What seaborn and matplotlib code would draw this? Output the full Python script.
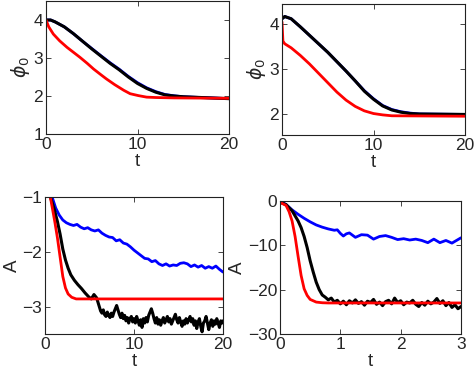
import numpy as np
import pandas as pd
import matplotlib
matplotlib.use('Agg')
import matplotlib.pyplot as plt
import seaborn as sns

sns.set_style('ticks')
plt.rcParams['font.family'] = ['Liberation Sans', 'DejaVu Sans']
plt.rcParams['mathtext.fontset'] = 'dejavusans'

BLUE, BLACK, RED = '#0000ff', '#000000', '#ff0000'

# ---- panel (a): phi_0 vs t, top left
tl_black_t = [0, 0.5, 1, 2, 3, 4, 5, 6, 7, 8, 9, 10, 11, 12, 13, 14, 15, 16, 18, 20]
tl_black_y = [4.0, 4.0, 3.95, 3.82, 3.64, 3.44, 3.24, 3.05, 2.86, 2.69, 2.5, 2.33, 2.2, 2.1, 2.03, 2.0, 1.98, 1.97, 1.95, 1.93]
tl_blue_t = [0, 0.5, 1, 2, 3, 4, 5, 6, 7, 8, 9, 10, 11, 12, 13, 14, 15, 16, 18, 20]
tl_blue_y = [4.0, 4.0, 3.95, 3.82, 3.64, 3.44, 3.25, 3.06, 2.875, 2.705, 2.515, 2.35, 2.215, 2.115, 2.04, 2.005, 1.98, 1.97, 1.95, 1.93]
tl_red_t = [0, 0.3, 0.8, 1.5, 2.3, 3, 3.7, 4.5, 5.2, 6, 6.6, 7.5, 8.5, 9.2, 10.1, 11, 12, 14, 20]
tl_red_y = [4.0, 3.82, 3.63, 3.45, 3.28, 3.15, 3.02, 2.86, 2.71, 2.56, 2.45, 2.3, 2.15, 2.06, 2.01, 1.97, 1.96, 1.95, 1.94]

# ---- panel (b): phi_0 vs t, top right
tr_black_t = [0, 0.3, 1, 2, 3, 4, 5, 6, 7, 8, 9, 10, 11, 12, 13, 14, 15, 20]
tr_black_y = [4.12, 4.17, 4.12, 3.94, 3.75, 3.56, 3.37, 3.16, 2.95, 2.73, 2.5, 2.32, 2.17, 2.08, 2.03, 2.0, 1.99, 1.98]
tr_blue_t = [0, 0.3, 1, 2, 3, 4, 5, 6, 7, 8, 9, 10, 11, 12, 13, 14, 15, 20]
tr_blue_y = [4.12, 4.17, 4.12, 3.94, 3.75, 3.56, 3.37, 3.16, 2.95, 2.73, 2.51, 2.33, 2.18, 2.09, 2.04, 2.01, 1.99, 1.98]
tr_red_t = [0, 0.1, 0.3, 1, 2, 3, 4, 5, 6, 7, 8, 9, 10, 11, 12, 20]
tr_red_y = [4.05, 3.62, 3.56, 3.47, 3.3, 3.11, 2.9, 2.69, 2.48, 2.3, 2.16, 2.06, 2.0, 1.97, 1.95, 1.94]

# ---- panel (c): A vs t, bottom left
bl_blue_t = [0, 0.5, 0.8, 1.2, 1.6, 2.0, 2.4, 2.8, 3.2, 3.6, 4.0, 4.4, 4.8, 5.2, 5.6, 6.0, 6.4,
             6.8, 7.2, 7.6, 8.0, 8.4, 8.8, 9.2, 9.6, 10.0, 10.4, 10.8, 11.2, 11.6, 12.0, 12.4,
             12.8, 13.2, 13.6, 14.0, 14.4, 14.8, 15.2, 15.6, 16.0, 16.4, 16.8, 17.2, 17.6,
             18.0, 18.4, 18.8, 19.2, 19.6, 20.0]
bl_blue_y = [-0.4, -0.85, -1.0, -1.2, -1.33, -1.42, -1.47, -1.5, -1.52, -1.5, -1.55, -1.58,
             -1.56, -1.6, -1.62, -1.6, -1.66, -1.7, -1.73, -1.74, -1.8, -1.78, -1.84, -1.86,
             -1.91, -1.97, -2.02, -2.07, -2.12, -2.13, -2.18, -2.16, -2.22, -2.25, -2.22,
             -2.26, -2.24, -2.25, -2.21, -2.2, -2.22, -2.27, -2.24, -2.28, -2.25, -2.3, -2.27,
             -2.3, -2.26, -2.32, -2.37]
bl_black_t = [0, 0.6, 1.0, 1.4, 1.7, 2.0, 2.3, 2.6, 2.9, 3.3, 3.7, 4.1, 4.5, 4.9, 5.2, 5.5, 5.8,
              6.1, 6.25, 6.4, 6.55, 6.7, 6.85, 7.0, 7.15, 7.3, 7.45,
              7.6, 7.75, 7.9, 8.05, 8.2, 8.35, 8.5, 8.65, 8.8, 8.95,
              9.1, 9.25, 9.4, 9.55, 9.7, 9.85, 10.0, 10.15, 10.3, 10.45,
              10.6, 10.75, 10.9, 11.05, 11.2, 11.35, 11.5, 11.65, 11.8, 11.95,
              12.1, 12.25, 12.4, 12.55, 12.7, 12.85, 13.0, 13.15, 13.3, 13.45,
              13.6, 13.75, 13.9, 14.05, 14.2, 14.35, 14.5, 14.65, 14.8, 14.95,
              15.1, 15.25, 15.4, 15.55, 15.7, 15.85, 16.0, 16.15, 16.3, 16.45,
              16.6, 16.75, 16.9, 17.05, 17.2, 17.35, 17.5, 17.65, 17.8, 17.95,
              18.1, 18.25, 18.4, 18.55, 18.7, 18.85, 19.0, 19.15, 19.3, 19.45,
              19.6, 19.75, 19.9, 20.0]
bl_black_y = [-0.3, -1.0, -1.2, -1.45, -1.68, -1.95, -2.15, -2.3, -2.42, -2.52, -2.6, -2.67,
              -2.75, -2.82, -2.86, -2.78, -2.84,
              -3.0, -3.08, -3.12, -3.06, -3.15, -3.18, -3.1, -3.16, -3.2, -3.12,
              -3.18, -3.1, -3.04, -2.98, -3.06, -3.14, -3.2, -3.12, -3.22, -3.16,
              -3.26, -3.2, -3.3, -3.22, -3.18, -3.28, -3.22, -3.3, -3.18, -3.26,
              -3.34, -3.24, -3.38, -3.22, -3.3, -3.2, -3.28, -3.16, -3.1, -3.04,
              -3.12, -3.22, -3.3, -3.2, -3.32, -3.24, -3.34, -3.26, -3.2, -3.3,
              -3.24, -3.18, -3.28, -3.22, -3.32, -3.26, -3.2, -3.14, -3.24, -3.3,
              -3.2, -3.28, -3.36, -3.26, -3.32, -3.22, -3.3, -3.24, -3.18, -3.28,
              -3.22, -3.34, -3.26, -3.4, -3.28, -3.22, -3.36, -3.46, -3.3, -3.26,
              -3.18, -3.3, -3.42, -3.3, -3.24, -3.36, -3.26, -3.32, -3.22, -3.3,
              -3.38, -3.26, -3.3, -3.26]
bl_red_t = [0, 0.6, 1.1, 1.4, 1.7, 2.0, 2.3, 2.6, 3.0, 3.5, 4.0, 20.0]
bl_red_y = [-0.2, -1.0, -1.45, -1.75, -2.1, -2.45, -2.66, -2.77, -2.83, -2.86, -2.86, -2.86]

# ---- panel (d): A vs t, bottom right
br_blue_t = [0, 0.1, 0.2, 0.3, 0.4, 0.5, 0.6, 0.7, 0.8, 0.9, 0.95, 1.0, 1.05, 1.1, 1.15, 1.25,
             1.35, 1.45, 1.55, 1.65, 1.75, 1.85, 1.95, 2.05, 2.15, 2.25, 2.35, 2.45, 2.55,
             2.65, 2.75, 2.85, 2.95, 3.0]
br_blue_y = [0, -0.8, -2.0, -3.0, -3.9, -4.7, -5.4, -5.9, -6.3, -6.6, -6.5, -7.3, -7.9, -7.4,
             -7.2, -8.2, -7.6, -7.7, -8.6, -8.0, -7.8, -8.2, -8.7, -8.5, -8.8, -8.6, -8.9,
             -9.4, -8.6, -9.4, -8.9, -9.5, -8.7, -8.3]
br_black_t = [0, 0.1, 0.2, 0.3, 0.35, 0.4, 0.45, 0.5, 0.55, 0.6, 0.65, 0.7, 0.75, 0.8, 0.85,
              0.9, 0.95, 1.0, 1.05, 1.1, 1.15, 1.2, 1.25, 1.3, 1.35, 1.4, 1.45, 1.5, 1.55,
              1.6, 1.65, 1.7, 1.75, 1.8, 1.85, 1.9, 1.95, 2.0, 2.05, 2.1, 2.15, 2.2, 2.25,
              2.3, 2.35, 2.4, 2.45, 2.5, 2.55, 2.6, 2.65, 2.7, 2.75, 2.8, 2.85, 2.9, 2.95, 3.0]
br_black_y = [-0.3, -0.8, -2.2, -4.5, -6.0, -8.0, -10.5, -13.5, -16.0, -18.3, -20.0, -21.2,
              -21.7, -22.3, -21.9, -22.8, -22.4, -23.2, -22.6, -23.4, -22.5, -23.0, -22.3,
              -23.1, -22.7, -23.5, -22.6, -22.9, -22.2, -23.3, -22.8, -23.6, -22.7, -22.4,
              -23.2, -21.9, -22.9, -22.5, -23.4, -22.8, -23.0, -22.4, -23.3, -23.8, -22.9,
              -23.5, -22.6, -23.2, -22.8, -22.0, -23.1, -22.5, -23.6, -22.9, -24.0, -23.4,
              -24.3, -23.8]
br_red_t = [0, 0.1, 0.15, 0.2, 0.25, 0.3, 0.35, 0.4, 0.45, 0.5, 0.6, 0.7, 0.8, 3.0]
br_red_y = [-0.3, -1.0, -2.4, -4.5, -8.0, -12.5, -16.8, -19.8, -21.3, -22.2, -22.8, -22.95, -23.0, -23.0]

W, H = 474, 372
fig = plt.figure(figsize=(W / 100, H / 100), dpi=100)


def box(x0, y0, x1, y1):
    # pixel box (top-left origin) -> figure fraction rect
    return [x0 / W, 1 - y1 / H, (x1 - x0) / W, (y1 - y0) / H]


panels = [
    (box(46, 1, 229, 134), [(tl_blue_t, tl_blue_y, BLUE), (tl_black_t, tl_black_y, BLACK), (tl_red_t, tl_red_y, RED)],
     (0, 20), (1, 4.5), [0, 10, 20], [1, 2, 3, 4], r'$\phi_0$'),
    (box(282, 4, 465, 135), [(tr_blue_t, tr_blue_y, BLUE), (tr_black_t, tr_black_y, BLACK), (tr_red_t, tr_red_y, RED)],
     (0, 20), (1.52, 4.45), [0, 10, 20], [2, 3, 4], r'$\phi_0$'),
    (box(45, 197, 223, 334), [(bl_blue_t, bl_blue_y, BLUE), (bl_black_t, bl_black_y, BLACK), (bl_red_t, bl_red_y, RED)],
     (0, 20), (-3.5, -1), [0, 10, 20], [-3, -2, -1], 'A'),
    (box(280, 201, 461, 334), [(br_blue_t, br_blue_y, BLUE), (br_black_t, br_black_y, BLACK), (br_red_t, br_red_y, RED)],
     (0, 3), (-30, 0), [0, 1, 2, 3], [-30, -20, -10, 0], 'A'),
]

for rect, lines, xl, yl, xt, yt, ylab in panels:
    ax = fig.add_axes(rect)
    for t, y, c in lines:
        df = pd.DataFrame({'t': t, 'y': y})
        sns.lineplot(data=df, x='t', y='y', color=c, linewidth=2.0 if c != BLACK else 2.2,
                     estimator=None, sort=False, ax=ax)
    ax.set_xlim(*xl)
    ax.set_ylim(*yl)
    ax.set_xticks(xt)
    ax.set_yticks(yt)
    ax.tick_params(direction='in', top=True, right=True, length=3.5, width=0.6,
                   labelsize=12.5, pad=2)
    for s in ax.spines.values():
        s.set_linewidth(0.8)
        s.set_color('#222222')
    ax.set_xlabel('t', fontsize=13.5, labelpad=1)
    ax.set_ylabel(ylab, fontsize=13.5, labelpad=1)

fig.savefig('out.png', dpi=100)
